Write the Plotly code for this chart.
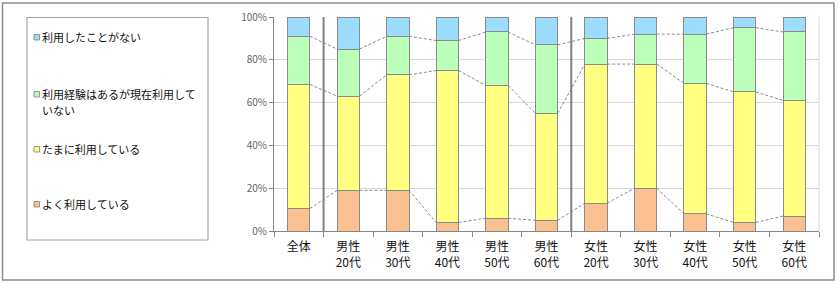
import plotly.graph_objects as go

categories = ["全体", "男性<br>20代", "男性<br>30代", "男性<br>40代", "男性<br>50代", "男性<br>60代",
              "女性<br>20代", "女性<br>30代", "女性<br>40代", "女性<br>50代", "女性<br>60代"]
series_names = ["よく利用している", "たまに利用している", "利用経験はあるが現在利用していない", "利用したことがない"]
often = [10.5, 19, 19, 4, 6, 5, 13, 20, 8, 4, 7]
sometimes = [58, 44, 54, 71, 62, 50, 65, 58, 61, 61, 54]
used_before = [22.5, 22, 18, 14, 25, 32, 12, 14, 23, 30, 32]
never = [9, 15, 9, 11, 7, 13, 10, 8, 8, 5, 7]
y_tick_vals = [0, 20, 40, 60, 80, 100]
y_tick_text = ["0%", "20%", "40%", "60%", "80%", "100%"]
# legend text as wrapped in the reference (one list of lines per series)
legend_lines = [["よく利用している"], ["たまに利用している"],
                ["利用経験はあるが現在利用して", "いない"], ["利用したことがない"]]

colors = ["#FAC090", "#FFFF80", "#BBFFBB", "#9BDCFF"]
series = [often, sometimes, used_before, never]
FONT = "Noto Sans CJK JP, Noto Sans, sans-serif"

W, H = 839, 283
L, R, T, B = 274, 20, 17, 52
PW, PH = W - L - R, H - T - B


def px(x):
    return (x - L) / PW


def py(y):
    return (H - B - y) / PH


xs = list(range(len(categories)))
bw = 0.45

fig = go.Figure()
for name, vals, col in zip(series_names, series, colors):
    fig.add_trace(go.Bar(x=xs, y=vals, name=name, width=bw,
                         marker=dict(color=col, line=dict(color="#8a8a8a", width=1)),
                         showlegend=False, hoverinfo="skip"))

# series connector lines
cum = [0.0] * len(xs)
for vals in series[:-1]:
    cum = [c + v for c, v in zip(cum, vals)]
    lx, ly = [], []
    for i in range(len(xs) - 1):
        lx += [xs[i] + bw / 2, xs[i + 1] - bw / 2, None]
        ly += [cum[i], cum[i + 1], None]
    fig.add_trace(go.Scatter(x=lx, y=ly, mode="lines", showlegend=False, hoverinfo="skip",
                             line=dict(color="#8a8a8a", width=1, dash="3px,2px")))

shapes = []
# group separators
for sx in [0.5, 5.5]:
    shapes.append(dict(type="line", xref="x", yref="y", x0=sx, x1=sx, y0=0, y1=100,
                       line=dict(color="#808080", width=2)))
# right plot edge
shapes.append(dict(type="line", xref="paper", yref="paper", x0=1, x1=1, y0=0, y1=1,
                   line=dict(color="#D9D9D9", width=1)))
# outer border
shapes.append(dict(type="rect", xref="paper", yref="paper", x0=px(2.5), x1=px(834), y0=py(280), y1=py(3),
                   line=dict(color="#8c8c8c", width=1.5), layer="below"))
# legend box
shapes.append(dict(type="rect", xref="paper", yref="paper", x0=px(27), x1=px(208), y0=py(240), y1=py(17.5),
                   line=dict(color="#A6A6A6", width=1.2)))

annotations = []
leg_y = [204, 149, 94, 37]
line_gap = 16
for lines, col, my in zip(legend_lines, colors, leg_y):
    shapes.append(dict(type="rect", xref="paper", yref="paper", x0=px(34), x1=px(39.5),
                       y0=py(my + 3), y1=py(my - 2.5), fillcolor=col,
                       line=dict(color="#808080", width=0.8)))
    for k, txt in enumerate(lines):
        annotations.append(dict(xref="paper", yref="paper", x=px(39.5), y=py(my + k * line_gap),
                                xanchor="left", yanchor="middle", text=txt, showarrow=False,
                                align="left", font=dict(family=FONT, size=11, color="#111")))

fig.update_layout(
    width=W, height=H,
    margin=dict(l=L, r=R, t=T, b=B, autoexpand=False),
    barmode="stack",
    paper_bgcolor="white", plot_bgcolor="white",
    font=dict(family=FONT),
    shapes=shapes, annotations=annotations,
    xaxis=dict(range=[-0.5, len(xs) - 0.5], tickvals=xs, ticktext=categories, ticks="",
               tickfont=dict(family=FONT, size=12, color="#111"),
               showline=True, linecolor="#868686", linewidth=1, showgrid=False, zeroline=False,
               ticklabelstandoff=5,
               minor=dict(tickmode="linear", tick0=-0.5, dtick=1, ticks="outside", ticklen=5,
                          tickcolor="#868686", showgrid=False)),
    yaxis=dict(range=[0, 100], tickvals=y_tick_vals, ticktext=y_tick_text, ticks="outside", ticklen=4,
               tickcolor="#868686", showline=True, linecolor="#868686", linewidth=1,
               gridcolor="#D9D9D9", gridwidth=1, zeroline=False,
               tickfont=dict(family=FONT, size=10, color="#666")),
)

fig.write_html("out.html")
